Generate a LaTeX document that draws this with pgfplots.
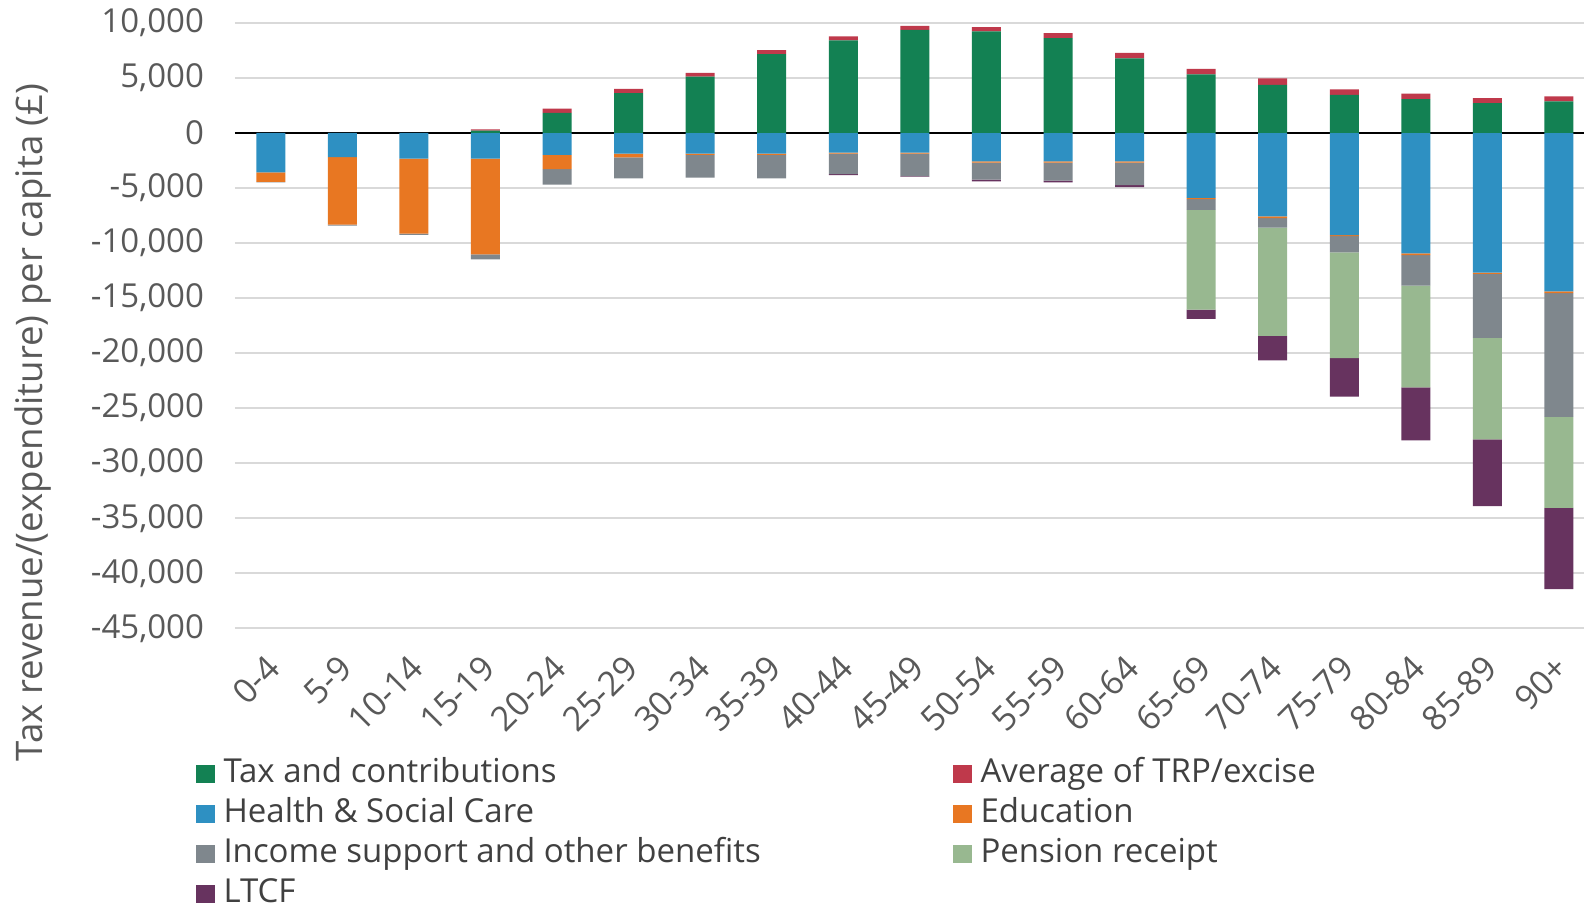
\documentclass[border=0pt]{standalone}
\usepackage{pgfplots}
\usepackage{pgfplotstable}
\usepackage{fontspec}
\setmainfont{Open Sans}
\pgfplotsset{compat=1.18}

\definecolor{taxgreen}{HTML}{138153}
\definecolor{trpred}{HTML}{BF394B}
\definecolor{healthblue}{HTML}{2E90C2}
\definecolor{eduorange}{HTML}{E87722}
\definecolor{incgrey}{HTML}{7F878D}
\definecolor{pensgreen}{HTML}{98B890}
\definecolor{ltcfpurple}{HTML}{67335F}
\definecolor{gridgrey}{HTML}{D9D9D9}
\definecolor{labelgrey}{HTML}{595959}
\definecolor{legendgrey}{HTML}{404040}

% Per-capita tax revenue (+) and public expenditure (-) by age band, in pounds
\pgfplotstableread{
x  tax   trp  health  edu    income  pension  ltcf
0  0     0    -3600   -850   -50     0        0
1  0     0    -2200   -6150  -80     0        0
2  0     0    -2350   -6800  -120    0        0
3  200   100  -2350   -8700  -450    0        0
4  1800  400  -2000   -1300  -1400   0        0
5  3600  400  -1900   -330   -1900   0        0
6  5100  350  -1900   -100   -2070   0        0
7  7150  350  -1900   -100   -2150   0        0
8  8400  350  -1800   -90    -1870   0        -90
9  9350  350  -1800   -90    -2050   0        -50
10 9200  400  -2600   -110   -1550   0        -150
11 8600  450  -2600   -110   -1640   0        -150
12 6750  500  -2600   -110   -2050   0        -180
13 5300  500  -5900   -120   -970    -9060    -840
14 4350  600  -7600   -150   -870    -9820    -2230
15 3450  500  -9300   -80    -1470   -9610    -3500
16 3050  500  -10950  -170   -2750   -9240    -4820
17 2700  450  -12700  -120   -5810   -9220    -6060
18 2850  450  -14400  -150   -11260  -8260    -7380
}\data

\begin{document}
\begin{tikzpicture}
\begin{axis}[
  scale only axis, width=674.5pt, height=302.8pt,
  xmin=-0.5, xmax=18.35, ymin=-45000, ymax=10000,
  enlargelimits=false,
  ybar stacked, stack negative=separate, bar width=14.5pt,
  axis line style={draw=none}, major tick length=0pt,
  ymajorgrids, grid style={color=gridgrey, line width=1pt},
  ytick={-45000,-40000,...,10000},
  scaled y ticks=false,
  /pgf/number format/assume math mode=true,
  yticklabel style={/pgf/number format/.cd, fixed, 1000 sep={,}, assume math mode=true,
    /tikz/.cd, font=\fontsize{16.5}{19}\selectfont, text=labelgrey, xshift=-12pt},
  xtick={0,...,18},
  xticklabels={0-4,5-9,10-14,15-19,20-24,25-29,30-34,35-39,40-44,45-49,
    50-54,55-59,60-64,65-69,70-74,75-79,80-84,85-89,90+},
  xticklabel shift=14.5pt,
  xticklabel style={xshift=4pt, rotate=45, anchor=east,
    font=\fontsize{17}{20}\selectfont, text=labelgrey},
  ylabel={Tax revenue/(expenditure) per capita (£)},
  ylabel style={at={(axis description cs:-0.150,0.34)}, anchor=center,
    font=\fontsize{18.3}{21}\selectfont, text=labelgrey},
  legend columns=2,
  legend cell align=left,
  legend style={at={(axis description cs:-0.034,-0.205)}, anchor=north west,
    draw=none, fill=none, font=\fontsize{16.5}{19}\selectfont, text=legendgrey,
    row sep=2.5pt, column sep=0pt,
    nodes={inner ysep=1pt, inner xsep=4.5pt, text height=12pt, text depth=3.5pt}},
  legend image code/.code={\fill[#1] (0pt,-4.5pt) rectangle (9.5pt,4.5pt);},
]
\addplot[fill=taxgreen, draw=none] table[x=x, y=tax] {\data};
\addlegendentry{\makebox[360pt][l]{Tax and contributions}}
\addplot[fill=trpred, draw=none] table[x=x, y=trp] {\data};
\addlegendentry{Average of TRP/excise}
\addplot[fill=healthblue, draw=none] table[x=x, y=health] {\data};
\addlegendentry{\makebox[360pt][l]{Health \& Social Care}}
\addplot[fill=eduorange, draw=none] table[x=x, y=edu] {\data};
\addlegendentry{Education}
\addplot[fill=incgrey, draw=none] table[x=x, y=income] {\data};
\addlegendentry{\makebox[360pt][l]{Income support and other benefits}}
\addplot[fill=pensgreen, draw=none] table[x=x, y=pension] {\data};
\addlegendentry{Pension receipt}
\addplot[fill=ltcfpurple, draw=none] table[x=x, y=ltcf] {\data};
\addlegendentry{LTCF}
\draw[black, line width=1.1pt] (axis cs:-0.5,0) -- (axis cs:18.35,0);
\end{axis}
\pgfresetboundingbox
\path ([xshift=-117.5pt,yshift=-138.35pt]current axis.south west)
  rectangle ([yshift=11.35pt]current axis.north east);
\end{tikzpicture}
\end{document}
